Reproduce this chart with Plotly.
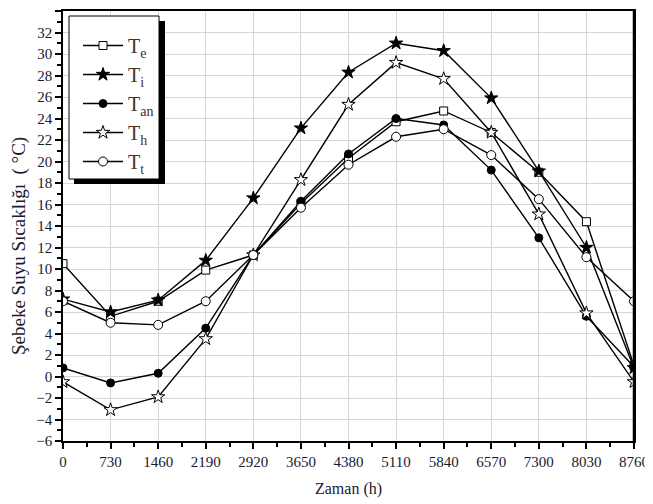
import plotly.graph_objects as go

hours = [0, 730, 1460, 2190, 2920, 3650, 4380, 5110, 5840, 6570, 7300, 8030, 8760]
T_e = [10.5, 5.6, 7.0, 9.9, 11.3, 16.1, 20.3, 23.7, 24.7, 22.7, 19.0, 14.4, 1.0]
T_i = [7.2, 6.0, 7.1, 10.8, 16.6, 23.1, 28.3, 31.0, 30.3, 25.9, 19.1, 12.0, 0.8]
T_an = [0.8, -0.6, 0.3, 4.5, 11.3, 16.3, 20.7, 24.0, 23.4, 19.2, 12.9, 5.6, 0.9]
T_h = [-0.5, -3.1, -1.9, 3.5, 11.3, 18.3, 25.3, 29.2, 27.7, 22.7, 15.1, 5.9, -0.5]
T_t = [7.0, 5.0, 4.8, 7.0, 11.3, 15.7, 19.7, 22.3, 23.0, 20.6, 16.5, 11.1, 7.0]

series = [
    ("T<sub>e</sub>", T_e, "square", "white", 8),
    ("T<sub>i</sub>", T_i, "star", "black", 10),
    ("T<sub>an</sub>", T_an, "circle", "black", 8),
    ("T<sub>h</sub>", T_h, "star", "white", 10),
    ("T<sub>t</sub>", T_t, "circle", "white", 9),
]

FONT = "Liberation Serif"

fig = go.Figure()
for name, vals, sym, fill, sz in series:
    fig.add_trace(go.Scatter(
        x=hours, y=vals, name=name, mode="lines+markers",
        line=dict(color="black", width=1.4),
        marker=dict(symbol=sym, size=sz, color=fill,
                    line=dict(color="black", width=1)),
    ))

# page body has an 8px margin; target screen positions are offset by it
OFF = 8
W, H = 653 - OFF, 504 - OFF
L, R, T, B = 63, 634, 11, 441  # screen pixel edges of plot area
def px(x):
    return (x - L) / (R - L)
def py(y):
    return (B - y) / (B - T)

fig.add_shape(type="rect", xref="paper", yref="paper",
              x0=px(74), x1=px(165), y0=py(184), y1=py(21),
              fillcolor="black", line=dict(width=0), layer="above")
fig.add_shape(type="rect", xref="paper", yref="paper",
              x0=px(69), x1=px(159), y0=py(179), y1=py(16),
              fillcolor="white", line=dict(color="black", width=1), layer="above")

fig.update_layout(
    width=W, height=H,
    margin=dict(l=L - OFF, r=W - (R - OFF), t=T - OFF, b=H - (B - OFF), autoexpand=False),
    paper_bgcolor="white", plot_bgcolor="white",
    font=dict(family=FONT, size=15, color="#1a1a2e"),
    showlegend=True,
    legend=dict(x=px(78), y=py(26), xanchor="left", yanchor="top",
                bgcolor="rgba(0,0,0,0)", borderwidth=0,
                font=dict(family=FONT, size=20, color="#4a3020"),
                itemwidth=40, tracegroupgap=0),
    xaxis=dict(range=[0, 8760], tickvals=hours, ticktext=[str(h) for h in hours],
               automargin=False,
               showgrid=True, gridcolor="#d6d6d6", gridwidth=1,
               showline=True, linecolor="black", linewidth=1.5, mirror=True,
               ticks="outside", ticklen=6, tickcolor="black", tickwidth=1.5,
               minor=dict(dtick=365, tick0=0, ticks="outside", ticklen=4,
                          tickcolor="black", showgrid=False),
               zeroline=False,
               title=dict(text="Zaman (h)", font=dict(family=FONT, size=16), standoff=14),
               tickfont=dict(family=FONT, size=15)),
    yaxis=dict(range=[-6, 34], tick0=-6, dtick=2,
               automargin=False,
               showgrid=True, gridcolor="#d6d6d6", gridwidth=1,
               showline=True, linecolor="black", linewidth=1.5, mirror=True,
               ticks="outside", ticklen=6, tickcolor="black", tickwidth=1.5,
               minor=dict(dtick=1, ticks="outside", ticklen=4,
                          tickcolor="black", showgrid=False),
               zeroline=False,
               tickfont=dict(family=FONT, size=15)),
    annotations=[dict(text="Şebeke Suyu Sıcaklığı  ( °C)", textangle=-90,
                      xref="paper", yref="paper", x=px(19), y=py(246),
                      xanchor="center", yanchor="middle", showarrow=False,
                      font=dict(family=FONT, size=19, color="#1a1a2e"))],
)

# thicker right frame line
fig.add_shape(type="line", xref="paper", yref="paper", x0=1, x1=1, y0=0, y1=1,
              line=dict(color="black", width=2.5))

fig.write_html("out.html")
